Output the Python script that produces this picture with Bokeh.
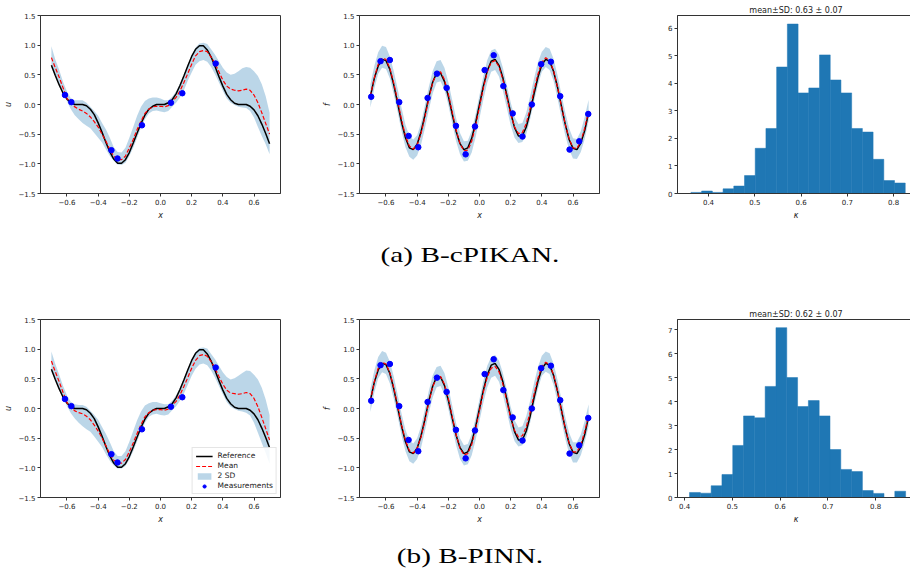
import numpy as np
from bokeh.plotting import figure
from bokeh.layouts import row, column
from bokeh.models import (FixedTicker, CustomJSTickFormatter, Legend, LegendItem,
                          Div, Range1d)
from bokeh.embed import file_html
from bokeh.resources import INLINE

# ---------------- data ----------------
x_grid = np.round(np.linspace(-0.7, 0.7, 57), 4)

u_ref = [0.66, 0.49, 0.33, 0.19, 0.09, 0.03, 0.00, 0.00, 0.00, -0.02, -0.08, -0.17, -0.31, -0.47,
         -0.64, -0.80, -0.92, -0.99, -0.99, -0.93, -0.81, -0.65, -0.48, -0.32, -0.18, -0.08, -0.03,
         0.00, 0.00, 0.00, 0.03, 0.08, 0.18, 0.32, 0.48, 0.65, 0.81, 0.93, 0.99, 0.99, 0.92, 0.80,
         0.64, 0.47, 0.31, 0.17, 0.08, 0.02, 0.00, 0.00, 0.00, -0.03, -0.09, -0.19, -0.33, -0.49, -0.66]

u_mean_a = [0.79, 0.62, 0.46, 0.28, 0.10, 0.03, -0.04, -0.08, -0.11, -0.15, -0.21, -0.29, -0.38, -0.50,
            -0.62, -0.76, -0.87, -0.93, -0.93, -0.87, -0.73, -0.59, -0.42, -0.28, -0.15, -0.08, -0.04,
            -0.03, -0.03, -0.04, -0.02, 0.05, 0.12, 0.23, 0.37, 0.52, 0.68, 0.82, 0.89, 0.91, 0.89, 0.80,
            0.69, 0.55, 0.41, 0.31, 0.26, 0.24, 0.23, 0.24, 0.26, 0.24, 0.16, 0.03, -0.14, -0.32, -0.50]
u_hi_a = [0.98, 0.76, 0.58, 0.38, 0.22, 0.10, 0.07, 0.07, 0.07, 0.03, -0.04, -0.11, -0.19, -0.31,
          -0.42, -0.56, -0.72, -0.80, -0.81, -0.73, -0.56, -0.38, -0.19, -0.04, 0.06, 0.10, 0.12,
          0.12, 0.10, 0.07, 0.07, 0.13, 0.22, 0.35, 0.50, 0.67, 0.82, 0.96, 1.03, 1.04, 1.02, 0.93,
          0.84, 0.73, 0.62, 0.54, 0.50, 0.52, 0.56, 0.61, 0.63, 0.62, 0.56, 0.48, 0.34, 0.14, -0.14]
u_lo_a = [0.62, 0.48, 0.34, 0.20, 0.05, -0.08, -0.18, -0.25, -0.31, -0.36, -0.40, -0.48, -0.56, -0.64,
          -0.76, -0.87, -0.95, -1.01, -1.02, -0.98, -0.87, -0.73, -0.56, -0.39, -0.25, -0.15, -0.11,
          -0.10, -0.12, -0.13, -0.11, -0.04, 0.03, 0.12, 0.24, 0.40, 0.54, 0.67, 0.73, 0.75, 0.72, 0.63,
          0.51, 0.37, 0.23, 0.10, 0.03, -0.01, -0.04, -0.05, -0.06, -0.11, -0.22, -0.38, -0.53, -0.67, -0.84]

u_mean_b = [0.80, 0.62, 0.45, 0.27, 0.10, 0.02, -0.04, -0.07, -0.09, -0.13, -0.19, -0.28, -0.38, -0.50,
            -0.63, -0.77, -0.87, -0.92, -0.92, -0.86, -0.73, -0.58, -0.42, -0.27, -0.14, -0.07, -0.03,
            -0.02, -0.02, -0.03, -0.01, 0.05, 0.12, 0.23, 0.37, 0.52, 0.68, 0.81, 0.89, 0.91, 0.88, 0.79,
            0.68, 0.54, 0.41, 0.31, 0.26, 0.25, 0.24, 0.25, 0.27, 0.25, 0.17, 0.03, -0.15, -0.34, -0.53]
u_hi_b = [0.96, 0.75, 0.57, 0.38, 0.22, 0.11, 0.07, 0.06, 0.06, 0.03, -0.04, -0.11, -0.19, -0.31,
          -0.43, -0.57, -0.72, -0.80, -0.80, -0.72, -0.56, -0.38, -0.20, -0.05, 0.05, 0.09, 0.11,
          0.11, 0.09, 0.07, 0.07, 0.13, 0.22, 0.35, 0.50, 0.67, 0.82, 0.95, 1.02, 1.03, 1.01, 0.92,
          0.83, 0.72, 0.61, 0.53, 0.49, 0.51, 0.55, 0.60, 0.64, 0.63, 0.57, 0.49, 0.35, 0.15, -0.11]
u_lo_b = [0.62, 0.48, 0.33, 0.19, 0.04, -0.08, -0.17, -0.24, -0.30, -0.35, -0.39, -0.47, -0.56, -0.65,
          -0.77, -0.88, -0.96, -1.01, -1.01, -0.97, -0.86, -0.72, -0.55, -0.38, -0.24, -0.14, -0.10,
          -0.09, -0.11, -0.12, -0.10, -0.03, 0.04, 0.13, 0.25, 0.40, 0.55, 0.67, 0.74, 0.76, 0.73, 0.64,
          0.52, 0.38, 0.24, 0.11, 0.03, -0.01, -0.04, -0.05, -0.07, -0.12, -0.24, -0.41, -0.58, -0.75, -0.93]

u_meas_x = [-0.613, -0.572, -0.315, -0.276, -0.119, 0.067, 0.140, 0.354]
u_meas_y = [0.16, 0.04, -0.77, -0.91, -0.35, 0.03, 0.19, 0.69]

f_ref = [0.14, 0.44, 0.65, 0.76, 0.74, 0.59, 0.33, 0.02, -0.30, -0.56, -0.73, -0.76, -0.67, -0.46,
         -0.18, 0.13, 0.38, 0.53, 0.53, 0.39, 0.14, -0.16, -0.45, -0.66, -0.76, -0.73, -0.57, -0.31,
         0.00, 0.31, 0.57, 0.73, 0.76, 0.66, 0.45, 0.16, -0.14, -0.39, -0.53, -0.53, -0.38, -0.13,
         0.18, 0.46, 0.67, 0.76, 0.73, 0.56, 0.30, -0.02, -0.33, -0.59, -0.74, -0.76, -0.65, -0.44, -0.14]

f_mean_a = [0.14, 0.45, 0.68, 0.78, 0.76, 0.61, 0.36, 0.06, -0.26, -0.53, -0.70, -0.75, -0.68, -0.49,
            -0.21, 0.10, 0.37, 0.53, 0.55, 0.42, 0.18, -0.13, -0.43, -0.66, -0.78, -0.77, -0.62, -0.36,
            -0.04, 0.28, 0.55, 0.71, 0.74, 0.64, 0.42, 0.13, -0.16, -0.38, -0.49, -0.47, -0.32, -0.06,
            0.24, 0.51, 0.71, 0.79, 0.74, 0.57, 0.30, -0.02, -0.33, -0.58, -0.73, -0.74, -0.62, -0.40, -0.11]
f_hi_a = [0.34, 0.65, 0.88, 0.99, 0.97, 0.81, 0.56, 0.26, -0.06, -0.34, -0.53, -0.59, -0.52, -0.31,
          -0.01, 0.30, 0.57, 0.73, 0.75, 0.62, 0.38, 0.07, -0.23, -0.48, -0.62, -0.61, -0.44, -0.16,
          0.16, 0.48, 0.75, 0.91, 0.94, 0.84, 0.62, 0.33, 0.04, -0.21, -0.33, -0.31, -0.14, 0.14,
          0.44, 0.71, 0.89, 0.97, 0.94, 0.77, 0.50, 0.18, -0.13, -0.40, -0.57, -0.58, -0.45, -0.21, 0.08]
f_lo_a = [-0.05, 0.27, 0.52, 0.62, 0.60, 0.44, 0.17, -0.13, -0.45, -0.72, -0.88, -0.93, -0.86, -0.68,
          -0.40, -0.09, 0.19, 0.37, 0.39, 0.25, -0.01, -0.32, -0.62, -0.84, -0.96, -0.95, -0.81, -0.55,
          -0.23, 0.09, 0.37, 0.55, 0.58, 0.47, 0.23, -0.06, -0.35, -0.56, -0.65, -0.63, -0.50, -0.25,
          0.05, 0.33, 0.55, 0.63, 0.58, 0.40, 0.11, -0.21, -0.52, -0.76, -0.91, -0.92, -0.80, -0.58, -0.28]

f_mean_b = [0.13, 0.45, 0.68, 0.78, 0.75, 0.60, 0.35, 0.04, -0.28, -0.54, -0.71, -0.75, -0.67, -0.48,
            -0.20, 0.11, 0.37, 0.52, 0.54, 0.41, 0.17, -0.14, -0.44, -0.67, -0.78, -0.76, -0.61, -0.35,
            -0.03, 0.28, 0.53, 0.68, 0.71, 0.62, 0.41, 0.13, -0.16, -0.37, -0.48, -0.46, -0.31, -0.06,
            0.24, 0.51, 0.71, 0.78, 0.74, 0.57, 0.30, -0.02, -0.33, -0.58, -0.73, -0.73, -0.61, -0.39, -0.12]
f_hi_b = [0.33, 0.64, 0.87, 0.97, 0.94, 0.79, 0.54, 0.23, -0.09, -0.36, -0.54, -0.59, -0.50, -0.30,
          -0.01, 0.30, 0.56, 0.70, 0.72, 0.60, 0.36, 0.05, -0.25, -0.50, -0.62, -0.60, -0.43, -0.16,
          0.16, 0.47, 0.72, 0.87, 0.90, 0.81, 0.60, 0.32, 0.03, -0.20, -0.32, -0.30, -0.13, 0.13,
          0.43, 0.70, 0.89, 0.96, 0.93, 0.76, 0.49, 0.17, -0.14, -0.41, -0.57, -0.57, -0.44, -0.21, 0.07]
f_lo_b = [-0.06, 0.27, 0.51, 0.61, 0.58, 0.42, 0.16, -0.14, -0.46, -0.72, -0.89, -0.93, -0.85, -0.66,
          -0.38, -0.07, 0.19, 0.36, 0.38, 0.24, -0.01, -0.32, -0.62, -0.85, -0.96, -0.94, -0.79, -0.53,
          -0.21, 0.10, 0.36, 0.52, 0.55, 0.45, 0.23, -0.05, -0.34, -0.55, -0.64, -0.62, -0.49, -0.24,
          0.06, 0.33, 0.55, 0.62, 0.58, 0.40, 0.12, -0.20, -0.51, -0.76, -0.91, -0.91, -0.79, -0.57, -0.30]

f_meas_x = [-0.695, -0.635, -0.575, -0.515, -0.455, -0.393, -0.333, -0.273, -0.211, -0.151, -0.089,
            -0.029, 0.033, 0.091, 0.153, 0.213, 0.276, 0.336, 0.396, 0.458, 0.518, 0.578, 0.640, 0.698]
f_meas_y = [0.13, 0.73, 0.75, 0.04, -0.53, -0.72, 0.11, 0.52, 0.28, -0.36, -0.84, -0.37, 0.58, 0.83,
            0.31, -0.15, -0.54, 0.00, 0.68, 0.72, 0.14, -0.76, -0.62, -0.16]

kappa_a_range = (0.362, 0.825)
kappa_a_density = [0.04, 0.09, 0.04, 0.17, 0.27, 0.65, 1.64, 2.36, 4.59, 6.15,
                   3.65, 3.83, 5.03, 4.12, 3.65, 2.36, 2.23, 1.24, 0.47, 0.38]
kappa_b_range = (0.4105, 0.863)
kappa_b_density = [0.21, 0.18, 0.49, 0.96, 2.17, 3.40, 3.32, 4.63, 7.08, 5.00,
                   3.79, 4.04, 3.40, 2.00, 1.17, 1.08, 0.29, 0.17, 0.00, 0.26]

title_a = "mean\u00b1SD: 0.63 \u00b1 0.07"
title_b = "mean\u00b1SD: 0.62 \u00b1 0.07"
x_ticks = [-0.6, -0.4, -0.2, 0.0, 0.2, 0.4, 0.6]
y_ticks = [-1.5, -1.0, -0.5, 0.0, 0.5, 1.0, 1.5]
k_ticks = [0.4, 0.5, 0.6, 0.7, 0.8]

# ---------------- styling helpers ----------------
AX = "#333333"
BAND = "#1f77b4"
fmt1 = CustomJSTickFormatter(code="return tick.toFixed(1).replace('-', '\u2212');")
fmt0 = CustomJSTickFormatter(code="return tick.toFixed(0);")


def make_fig(xr, yr, ml, mr, mt, mb, fw=240, fh=178):
    p = figure(frame_width=fw, frame_height=fh, x_range=Range1d(*xr), y_range=Range1d(*yr),
               output_backend="svg", toolbar_location=None,
               min_border_left=ml, min_border_right=mr, min_border_top=mt, min_border_bottom=mb)
    p.grid.visible = False
    p.outline_line_color = AX
    p.outline_line_width = 1
    p.background_fill_color = "white"
    p.border_fill_color = "white"
    for ax in p.axis:
        ax.axis_line_color = AX
        ax.major_tick_line_color = AX
        ax.minor_tick_line_color = None
        ax.major_tick_out = 3
        ax.major_tick_in = 0
        ax.major_label_text_font = "DejaVu Sans"
        ax.major_label_text_font_size = "7px"
        ax.major_label_text_color = "#222222"
        ax.major_label_standoff = 2
        ax.axis_label_text_font = "DejaVu Sans"
        ax.axis_label_text_font_size = "8px"
        ax.axis_label_text_font_style = "italic"
        ax.axis_label_text_color = "#222222"
        ax.axis_label_standoff = 3
    return p


def curve_panel(ref, mean, lo, hi, mx, my, ylabel, ml, mr, mt, mb, with_legend=False):
    p = make_fig((-0.77, 0.77), (-1.5, 1.5), ml, mr, mt, mb)
    p.xaxis.ticker = FixedTicker(ticks=x_ticks)
    p.yaxis.ticker = FixedTicker(ticks=y_ticks)
    p.xaxis.formatter = fmt1
    p.yaxis.formatter = fmt1
    p.xaxis.axis_label = "x"
    p.yaxis.axis_label = ylabel
    r_band = p.varea(x=x_grid, y1=lo, y2=hi, fill_color=BAND, fill_alpha=0.3)
    r_ref = p.line(x_grid, ref, line_color="black", line_width=1.5)
    r_mean = p.line(x_grid, mean, line_color="red", line_width=1.2, line_dash="4 2")
    r_pts = p.scatter(mx, my, size=5.5, fill_color="blue", line_color="blue")
    if with_legend:
        leg = Legend(items=[LegendItem(label="Reference", renderers=[r_ref]),
                            LegendItem(label="Mean", renderers=[r_mean]),
                            LegendItem(label="2 SD", renderers=[r_band]),
                            LegendItem(label="Measurements", renderers=[r_pts])],
                     location="bottom_right")
        leg.border_line_color = "#cccccc"
        leg.background_fill_alpha = 0.85
        leg.label_text_font = "DejaVu Sans"
        leg.label_text_font_size = "7.5px"
        leg.label_text_color = "#222222"
        leg.label_height = 8
        leg.glyph_height = 8
        leg.glyph_width = 17
        leg.label_standoff = 5
        leg.spacing = 1
        leg.padding = 3
        leg.margin = 3
        p.add_layout(leg)
    return p


def hist_panel(krange, dens, xr, ytop, yticks, title, mt, mb):
    p = make_fig(xr, (0, ytop), 39, 0, mt, mb, fw=237)
    edges = np.linspace(krange[0], krange[1], len(dens) + 1)
    p.quad(left=edges[:-1], right=edges[1:], bottom=0, top=dens,
           fill_color="#1f77b4", line_color="#1f77b4", line_width=0.5)
    p.xaxis.ticker = FixedTicker(ticks=k_ticks)
    p.yaxis.ticker = FixedTicker(ticks=yticks)
    p.xaxis.formatter = fmt1
    p.yaxis.formatter = fmt0
    p.xaxis.axis_label = "\u03ba"
    p.title.text = title
    p.title.align = "center"
    p.title.text_font = "DejaVu Sans"
    p.title.text_font_size = "8px"
    p.title.text_font_style = "normal"
    p.title.text_color = "#222222"
    p.title.standoff = 2
    p.title.offset = 0
    return p


# ---------------- top row (a) ----------------
p1 = curve_panel(u_ref, u_mean_a, u_lo_a, u_hi_a, u_meas_x, u_meas_y, "u", 37, 39, 15, 32)
p2 = curve_panel(f_ref, f_mean_a, f_lo_a, f_hi_a, f_meas_x, f_meas_y, "f", 39, 39, 15, 32)
p3 = hist_panel(kappa_a_range, kappa_a_density, (0.333, 0.845), 6.46, [0, 1, 2, 3, 4, 5, 6],
                title_a, 15, 32)

# ---------------- bottom row (b) ----------------
p4 = curve_panel(u_ref, u_mean_b, u_lo_b, u_hi_b, u_meas_x, u_meas_y, "u", 37, 39, 29, 28,
                 with_legend=True)
p5 = curve_panel(f_ref, f_mean_b, f_lo_b, f_hi_b, f_meas_x, f_meas_y, "f", 39, 39, 29, 28)
p6 = hist_panel(kappa_b_range, kappa_b_density, (0.3853, 0.8816), 7.42, [0, 1, 2, 3, 4, 5, 6, 7],
                title_b, 29, 28)

cap_style = ("position:absolute; left:470px; top:14px; white-space:nowrap; "
             "transform:translateX(-50%) scaleX(1.33); font-family:'Liberation Serif', serif; "
             "font-size:22px; color:#000000;")
cap_a = Div(text=f'<div style="{cap_style}">(a) B-cPIKAN.</div>', width=910, height=65, margin=0)
cap_b = Div(text=f'<div style="{cap_style}">(b) B-PINN.</div>', width=910, height=44, margin=0)

layout = column(row(p1, p2, p3, spacing=0), cap_a, row(p4, p5, p6, spacing=0), cap_b, spacing=0)

open("out.html", "w").write(file_html(layout, INLINE))
